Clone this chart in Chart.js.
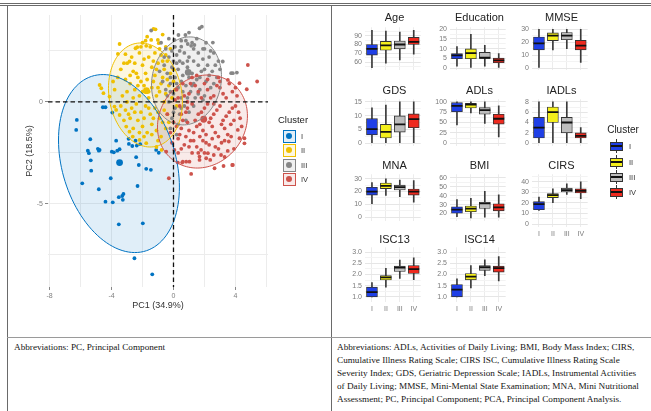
<!DOCTYPE html>
<html><head><meta charset="utf-8">
<script src="https://cdn.jsdelivr.net/npm/chart.js"></script>
<style>
html,body{margin:0;padding:0;background:#fff;}
body{width:651px;height:411px;position:relative;overflow:hidden;font-family:"Liberation Sans",Arial,sans-serif;}
.hl{position:absolute;background:#6a6a6a;height:1px;}
.vl{position:absolute;background:#6a6a6a;width:1px;}
.ttl{position:absolute;font-size:11px;color:#222;transform:translate(-50%,-50%);white-space:nowrap;}
.note{position:absolute;font-family:"Liberation Serif","DejaVu Serif",serif;font-size:9.2px;color:#151515;white-space:nowrap;line-height:13px;}
.lab{position:absolute;transform:translateY(-50%);color:#333;white-space:nowrap;}
</style></head><body>
<div class="hl" style="left:0;top:3px;width:651px;"></div>
<div class="hl" style="left:0;top:5px;width:651px;"></div>
<div class="vl" style="left:7px;top:5px;height:406px;"></div>
<div class="vl" style="left:331px;top:5px;height:406px;"></div>
<div class="hl" style="left:7px;top:337px;width:644px;background:#9a9a9a;"></div>
<div class="note" style="left:14px;top:341px;">Abbreviations: PC, Principal Component</div>
<div class="note" style="left:337px;top:341px;">Abbreviations: ADLs, Activities of Daily Living; BMI, Body Mass Index; CIRS,<br>Cumulative Illness Rating Scale; CIRS ISC, Cumulative Illness Rating Scale<br>Severity Index; GDS, Geriatric Depression Scale; IADLs, Instrumental Activities<br>of Daily Living; MMSE, Mini-Mental State Examination; MNA, Mini Nutritional<br>Assessment; PC, Principal Component; PCA, Principal Component Analysis.</div>
<div id="pcawrap" style="position:absolute;left:8px;top:6px;width:323px;height:332px;"><canvas id="pca" width="323" height="332"></canvas></div>
<script>
// ---------------- DATA ----------------
const clusters = ['I','II','III','IV'];
const pcaColors = ['#0073C2','#EFC000','#868686','#CD534C'];
const pcaFills = ['rgba(0,115,194,0.12)','rgba(239,192,0,0.12)','rgba(134,134,134,0.12)','rgba(205,83,76,0.12)'];
const pcaXTicks = [-8,-6,-4,-2,0,2,4,6];
const pcaXLabels = [-8,-4,0,4];
const pcaYTicks = [-7.5,-5,-2.5,0,2.5];
const pcaYLabels = [-5,0];

const clusterI = [[-4.56,-0.26],[-4.39,-0.26],[-3.95,-0.52],[-6.24,-0.88],[-6.28,-1.37],[-5.37,-1.83],[-3.70,-1.90],[-2.90,-1.81],[-2.88,-2.06],[-2.66,-2.16],[-2.37,-2.14],[-2.15,-2.07],[-2.45,-1.90],[-5.53,-2.39],[-5.46,-2.51],[-4.88,-2.30],[-4.82,-2.39],[-3.98,-2.44],[-3.85,-2.47],[-3.63,-2.39],[-3.48,-2.32],[-5.34,-2.86],[-2.41,-2.71],[-2.24,-3.09],[-1.76,-3.28],[-1.46,-3.33],[-5.31,-3.37],[-5.89,-3.99],[-4.05,-3.74],[-2.32,-4.12],[-4.82,-4.28],[-3.53,-4.67],[-3.31,-4.61],[-3.23,-4.51],[-3.27,-4.80],[-4.39,-4.89],[-3.92,-4.92],[-3.53,-6.00],[-1.98,-5.95],[-2.52,-7.66],[-1.37,-8.45],[-1.12,-2.35],[-0.95,-2.49],[-4.77,-2.35]];
const clusterII = [[-3.48,2.84],[-3.10,2.34],[-2.99,1.90],[-2.84,1.98],[-2.34,2.68],[-1.76,2.75],[-1.44,3.04],[-1.16,3.56],[-1.01,3.04],[-0.95,2.88],[-1.29,3.58],[-2.45,2.63],[-3.59,2.35],[-4.77,0.83],[-4.66,0.67],[-4.52,0.43],[-4.13,0.26],[-3.81,-0.23],[-3.70,-0.39],[-3.48,-0.64],[-3.05,-1.21],[-2.84,-1.46],[-2.63,-1.70],[-2.19,-1.86],[-1.76,-2.02],[-1.10,-2.21],[-0.77,-2.35],
 [-2.6,1.5],[-2.3,1.2],[-2.0,1.8],[-1.8,1.4],[-1.6,2.2],[-1.4,1.7],[-1.2,2.4],[-1.0,1.9],[-0.8,2.3],[-0.6,1.6],[-0.4,2.0],[-0.2,1.4],[0.0,1.0],[-2.8,0.9],[-2.5,0.6],[-2.2,0.3],[-1.9,0.8],[-1.6,0.5],[-1.3,1.0],[-1.0,0.7],[-0.7,1.2],[-0.5,0.4],[-0.3,0.8],[-0.1,0.2],[-3.3,0.3],[-3.0,0.0],[-2.7,-0.3],[-2.4,-0.1],[-2.1,-0.5],[-1.8,-0.2],[-1.5,-0.6],[-1.2,-0.3],[-0.9,-0.8],[-0.6,-0.4],[-0.3,-1.0],[-3.2,-0.9],[-2.9,-0.6],[-2.0,-1.2],[-1.7,-1.5],[-1.4,-1.1],[-1.1,-1.4],[-0.8,-1.7],[-0.5,-1.3],[-2.3,-0.9],[-3.6,1.2],[-3.4,1.6],[-3.1,1.1],[-2.0,2.9],[-1.7,3.2],[-0.7,3.3],[-0.5,2.7],
 [-2.7,2.2],[-2.5,1.9],[-2.2,2.4],[-1.9,2.1],[-1.5,2.7],[-1.3,2.0],[-1.1,1.6],[-0.9,2.6],[-0.7,2.0],[-0.5,2.3],[-2.4,1.4],[-2.1,1.0],[-1.7,1.1],[-1.2,1.3],[-0.8,0.9],[-0.4,1.1],[-2.6,0.2],[-2.3,0.8],[-2.0,0.5],[-1.6,0.2],[-1.4,0.7],[-1.1,0.3],[-0.9,0.5],[-0.6,0.0],[-3.4,-0.2],[-3.1,-0.4],[-2.8,-0.8],[-2.5,-0.5],[-1.9,-0.8],[-1.6,-0.3],[-1.3,-0.8],[-1.0,-0.5],[-0.7,-1.0],[-0.4,-0.6],[-2.6,-1.3],[-2.2,-1.5],[-1.9,-1.7],[-1.4,-1.6],[-1.0,-1.9],[-3.8,0.6],[-3.9,1.0],[-3.2,1.9],[-2.8,1.3],[-3.0,0.5],[0.1,0.6],[0.2,-0.2],[0.0,1.6],[-0.2,2.6],[-1.8,3.0],[-2.1,2.7]];
const clusterIII = [[1.68,3.61],[1.83,3.69],[0.32,3.28],[0.77,3.28],[2.54,2.91],[3.18,1.98],[3.72,1.41],[4.09,1.44],[1.35,2.79],[1.14,2.75],[0.92,2.84],[0.50,2.71],[0.06,3.04],[-1.44,3.50],[3.83,1.41],
 [-0.5,2.6],[-0.3,2.2],[-0.1,2.5],[0.2,2.3],[0.4,2.0],[0.7,2.4],[1.0,2.2],[1.3,2.0],[1.6,2.4],[1.9,2.1],[2.2,1.8],[2.5,1.5],[2.8,1.2],[-0.6,1.8],[-0.4,1.4],[-0.1,1.7],[0.1,1.2],[0.3,1.6],[0.6,1.3],[0.9,1.7],[1.2,1.4],[1.5,1.1],[1.8,1.5],[2.1,1.0],[2.4,0.7],[-0.7,1.0],[-0.5,0.6],[-0.2,0.9],[0.0,0.4],[0.3,0.7],[0.5,0.2],[0.8,0.8],[1.1,0.5],[1.4,0.2],[1.7,0.6],[2.0,0.3],[-0.3,0.0],[0.1,-0.3],[0.4,-0.6],[0.7,-0.2],[1.0,-0.5],[-0.1,-0.8],[0.3,-1.1],[2.6,2.4],[2.9,2.0],[3.0,1.6],[-0.8,2.9],[0.0,2.0],[0.5,3.0],[1.5,3.1],[2.0,2.6],[-0.9,1.5],[1.3,2.6],[2.3,2.2],[0.2,-1.6],[-0.2,-1.3],
 [0.1,2.7],[0.4,2.5],[0.9,2.0],[1.2,2.9],[1.6,1.8],[2.1,2.9],[2.4,2.5],[2.7,1.8],[0.6,1.9],[0.2,1.9],[-0.2,1.2],[0.5,1.0],[1.0,1.2],[1.3,0.9],[1.7,1.2],[2.0,1.6],[2.3,1.3],[0.2,0.9],[0.6,0.5],[0.9,0.2],[1.2,0.8],[1.6,0.4],[-0.4,0.3],[-0.2,0.5],[0.0,-0.5],[0.5,-0.3],[0.8,-0.9],[1.3,-0.2],[1.9,0.1],[2.6,0.9],[-0.6,2.2],[-0.3,3.1],[0.8,3.0],[1.0,3.4],[1.9,2.6]];
const clusterIV = [[4.80,1.81],[5.40,1.00],[4.73,0.62],[4.26,0.92],[3.51,1.08],[4.58,-1.78],[4.58,-2.03],[3.79,-3.09],[3.23,-3.14],[2.65,-3.25],[1.14,-3.53],[-0.47,-2.44],[0.06,-2.35],[0.60,-2.93],[1.03,-2.93],[-0.30,-3.74],[4.15,-1.37],[4.26,-1.78],[3.57,-1.94],[3.72,-1.70],[3.07,-2.60],[2.11,-2.76],[2.22,-2.51],[1.68,-2.68],[1.78,-2.35],[0.28,-2.97],[0.56,-2.97],[0.82,-2.93],[1.68,-2.84],[2.37,-2.84],[3.83,-3.09],
 [0.2,0.6],[0.6,0.9],[1.0,0.4],[1.4,0.8],[1.8,0.2],[2.2,0.6],[2.6,0.3],[3.0,0.7],[3.4,0.2],[3.8,0.5],[0.4,-0.2],[0.8,-0.5],[1.2,-0.1],[1.6,-0.6],[2.0,-0.3],[2.4,-0.8],[2.8,-0.4],[3.2,-0.9],[3.6,-0.5],[4.0,-0.2],[0.0,-1.0],[0.5,-1.3],[0.9,-1.0],[1.3,-1.5],[1.7,-1.1],[2.1,-1.6],[2.5,-1.2],[2.9,-1.7],[3.3,-1.3],[3.7,-1.1],[0.3,-1.8],[0.7,-2.1],[1.1,-1.9],[1.5,-2.2],[1.9,-1.9],[2.3,-2.1],[2.7,-2.2],[3.1,-2.0],[3.5,-2.4],[-0.2,-1.5],[-0.4,-0.6],[0.1,0.1],[4.3,-0.8],[4.1,0.3],[2.2,1.1],[2.9,1.2],[1.5,1.3],[3.3,-2.7],[2.0,-2.5],[1.2,-2.5],[0.3,-2.5],[4.4,-1.2],[3.9,-2.3],[0.9,0.0],[2.6,-0.1],
 [0.3,0.2],[0.7,0.3],[1.1,0.9],[1.6,0.5],[2.0,0.9],[2.4,0.2],[2.8,0.8],[3.2,0.4],[3.6,0.9],[0.5,-0.6],[0.9,-0.3],[1.4,-0.9],[1.8,-0.5],[2.2,-0.1],[2.6,-0.6],[3.0,-0.2],[3.4,-0.7],[3.8,-0.3],[0.2,-1.2],[0.6,-0.9],[1.0,-1.4],[1.5,-1.2],[1.9,-1.4],[2.3,-1.0],[2.7,-1.5],[3.1,-1.1],[3.5,-1.6],[3.9,-0.9],[0.4,-1.6],[0.8,-1.7],[1.3,-1.9],[1.7,-1.7],[2.1,-2.0],[2.5,-1.8],[2.9,-2.3],[3.3,-1.9],[-0.1,-2.0],[0.5,-2.3],[1.0,-2.2],[1.6,-2.5],[2.6,-2.6],[4.2,-0.5],[4.0,0.7],[3.0,1.0],[1.2,1.2]];
const clusterCenters = [[-3.48,-2.97],[-1.75,0.55],[0.95,1.45],[1.95,-0.85]];
const ellipseCenters = [[-3.52,-3.02],[-1.81,0.34],[0.84,1.03],[1.87,-0.96]];
const ellipseCov = [[15.23,-4.50,19.03],[5.70,-0.79,6.50],[5.10,0.47,4.65],[8.43,0.79,5.20]];

// box stats per cluster: [lower whisker, Q1, median, Q3, upper whisker]
const ageStats   = [[54,68,75,80,96],[59,73.5,79,83.5,95],[62.5,75,80,84,94],[69,80,83,88,96]];
const eduStats   = [[1,4.8,6.5,7.4,11],[0,4.8,7.7,9.9,17.4],[1,5,5.3,8.1,11.7],[0,2.7,3.9,5.1,7.4]];
const mmseStats  = [[0,14,19,24,30],[14,21.2,25,27.2,30],[15,21.9,25,27.5,30],[4.3,14,17.4,21.4,30]];
const gdsStats   = [[0,3,5.1,8.9,12.8],[0,1.9,4.1,6.8,13.8],[0,4,6.8,9.9,15],[0,5.6,8.7,10.6,15]];
const adlStats   = [[44,76,90,98,100],[73,85,93,96,100],[48,70,80,86,100],[15,46,59,70,90]];
const iadlStats  = [[0,1,3,5,8],[0,4,6,7,8],[0,2,4,5,8],[0,1,1.4,2,3]];
const mnaStats   = [[10.6,17.2,20,23.4,27],[17,22.3,24.5,26.7,30],[16,21.2,23.4,25,29],[11.7,17.2,20,22,28.5]];
const bmiStats   = [[16.4,20.3,24.3,27.6,35.7],[15,22,25.5,28.5,37],[16,25.7,31.5,33,45],[16,23,27,31,41]];
const cirsStats  = [[13,13.6,18.8,21.2,25.5],[20.3,25,27.3,28.8,33.4],[28,30.3,32,34,38],[24,29.4,31.5,33.4,40]];
const isc13Stats = [[1.0,1.0,1.21,1.43,1.64],[1.43,1.75,1.87,1.95,2.27],[1.82,2.13,2.3,2.37,2.64],[1.77,2.04,2.24,2.4,2.74]];
const isc14Stats = [[1.0,1.0,1.32,1.55,1.8],[1.4,1.76,1.9,2.04,2.4],[1.94,2.18,2.32,2.4,2.65],[1.71,2.1,2.28,2.37,2.8]];

const ageTicks = [60,70,80,90];
const eduTicks = [0,5,10,15,20];
const mmseTicks = [0,10,20,30];
const gdsTicks = [0,5,10,15];
const adlTicks = [0,25,50,75,100];
const iadlTicks = [0,2,4,6,8];
const mnaTicks = [0,10,20,30];
const bmiTicks = [20,30,40,50,60];
const cirsTicks = [0,10,20,30,40];
const iscTicks = [1.0,1.5,2.0,2.5,3.0];

const boxFill = ['#1f3fe6','#f4ef1c','#bdbdbd','#ee2a1f'];

// ---------------- LAYOUT ----------------
Chart.defaults.font.family = "'Liberation Sans', Arial, sans-serif";
const colX = [364.5, 449.5, 531.5];
const rowY = [[25,76],[97,152],[172,227],[245,302]];
const titleY = [17,90,165,239];

const panels = [
 {title:'Age', stats:ageStats, ticks:ageTicks, min:51.6, max:99.4, col:0,row:0},
 {title:'Education', stats:eduStats, ticks:eduTicks, min:-0.86, max:21, col:1,row:0},
 {title:'MMSE', stats:mmseStats, ticks:mmseTicks, min:-1.3, max:31.5, col:2,row:0},
 {title:'GDS', stats:gdsStats, ticks:gdsTicks, min:-0.9, max:15.9, col:0,row:1},
 {title:'ADLs', stats:adlStats, ticks:adlTicks, min:-6, max:106, col:1,row:1},
 {title:'IADLs', stats:iadlStats, ticks:iadlTicks, min:-0.5, max:8.5, col:2,row:1},
 {title:'MNA', stats:mnaStats, ticks:mnaTicks, min:-2.8, max:33.5, col:0,row:2},
 {title:'BMI', stats:bmiStats, ticks:bmiTicks, min:12, max:64, col:1,row:2},
 {title:'CIRS', stats:cirsStats, ticks:cirsTicks, min:-2.7, max:47, col:2,row:2, showX:true},
 {title:'ISC13', stats:isc13Stats, ticks:iscTicks, min:0.77, max:3.21, col:0,row:3, showX:true, dec:1},
 {title:'ISC14', stats:isc14Stats, ticks:iscTicks, min:0.77, max:3.21, col:1,row:3, showX:true, dec:1}
];

function addDiv(html, css, cls){ const d=document.createElement('div'); if(cls) d.className=cls; d.style.cssText=css; d.innerHTML=html; document.body.appendChild(d); return d; }

panels.forEach(p=>{
  const plotL = colX[p.col], plotT = rowY[p.row][0], plotH = rowY[p.row][1]-rowY[p.row][0];
  const yW = 22, padT = 5, padR = 3, xH = p.showX ? 12 : 1;
  const w = yW + 60 + padR, h = padT + plotH + xH;
  const wrap = addDiv('', `position:absolute;left:${plotL-yW}px;top:${plotT-padT}px;width:${w}px;height:${h}px;`);
  const cv = document.createElement('canvas'); cv.width=w; cv.height=h; wrap.appendChild(cv);
  addDiv(p.title, `left:${plotL+30}px;top:${titleY[p.row]}px;`, 'ttl');
  const step = p.ticks[1]-p.ticks[0];
  const all = [];
  for(let i=0;i<p.ticks.length;i++){ all.push(p.ticks[i]); all.push(p.ticks[i]+step/2); }
  all.unshift(p.ticks[0]-step/2);
  const vis = all.filter(v=>v>=p.min && v<=p.max);
  const isMajor = v => p.ticks.some(t=>Math.abs(t-v)<1e-9);
  new Chart(cv,{
    type:'bar',
    data:{labels:clusters, datasets:[
      {type:'bar', data:p.stats.map(s=>[s[0],s[4]]), backgroundColor:'#3a3a3a', barThickness:1, grouped:false, order:3},
      {type:'bar', data:p.stats.map(s=>[s[1],s[3]]), backgroundColor:boxFill, borderColor:'#333', borderWidth:0.9, borderSkipped:false, barThickness:11, grouped:false, order:2},
      {type:'line', data:p.stats.map(s=>s[2]), showLine:false, pointStyle:'line', pointRadius:5.5, pointBorderWidth:1.8, pointBorderColor:'#111', borderColor:'#111', order:1}
    ]},
    options:{
      responsive:false, animation:false, events:[],
      layout:{padding:{top:padT,right:padR,bottom:0,left:0}},
      plugins:{legend:{display:false},tooltip:{enabled:false}},
      scales:{
        x:{type:'category', offset:true, border:{display:false},
           grid:{offset:false, color:'#ececec', drawTicks:false},
           ticks:{display:!!p.showX, font:{size:7}, color:'#7a7a7a', padding:3, maxRotation:0, autoSkip:false},
           afterFit:s=>{s.height=xH;}},
        y:{min:p.min, max:p.max, border:{display:false},
           afterBuildTicks:s=>{s.ticks = vis.map(v=>({value:v}));},
           grid:{drawTicks:false, color:c=> isMajor(c.tick.value)?'#e6e6e6':'#f3f3f3'},
           ticks:{autoSkip:false, font:{size:7}, color:'#7a7a7a', padding:3,
                  callback:v=> isMajor(v) ? (p.dec? Number(v).toFixed(p.dec) : String(Math.round(v))) : ''},
           afterFit:s=>{s.width=yW;}}
      }
    }
  });
});

// boxplot legend
addDiv('Cluster','left:623px;top:129px;font-size:10px;color:#222;','ttl');
[146,162,177,192].forEach((y,i)=>{
  addDiv('',`position:absolute;left:616px;top:${y-7}px;width:1px;height:14px;background:#333;`);
  addDiv('',`position:absolute;left:610px;top:${y-4}px;width:11px;height:7px;border:1px solid #333;background:${boxFill[i]};`);
  addDiv('',`position:absolute;left:611px;top:${y-1}px;width:11px;height:2px;background:#111;`);
  addDiv(clusters[i],`left:629px;top:${y}px;font-size:7.5px;`,'lab');
});

// PCA legend
addDiv('Cluster','left:293px;top:119px;font-size:9.5px;color:#222;','ttl');
[136,150,165,179].forEach((y,i)=>{
  addDiv('',`position:absolute;left:283px;top:${y-6}px;width:11px;height:11px;border:1px solid ${pcaColors[i]};background:${pcaFills[i]};`);
  addDiv('',`position:absolute;left:286px;top:${y-3}px;width:6px;height:6px;border-radius:50%;background:${pcaColors[i]};`);
  addDiv(clusters[i],`left:301px;top:${y}px;font-size:7.5px;`,'lab');
});

// ---------------- PCA scatter ----------------
function ellPath(chart, k){
  const xs=chart.scales.x, ys=chart.scales.y, c=ellipseCenters[k], s=ellipseCov[k];
  const L11=Math.sqrt(s[0]), L21=s[1]/L11, L22=Math.sqrt(s[2]-L21*L21);
  const ctx=chart.ctx; ctx.beginPath();
  for(let j=0;j<=120;j++){
    const t=j/120*2*Math.PI;
    const px=xs.getPixelForValue(c[0]+L11*Math.cos(t));
    const py=ys.getPixelForValue(c[1]+L21*Math.cos(t)+L22*Math.sin(t));
    if(j) ctx.lineTo(px,py); else ctx.moveTo(px,py);
  }
  ctx.closePath();
}
const pcaPlugin = {
  id:'pcaDeco',
  beforeDatasetsDraw(chart){
    const ctx=chart.ctx; ctx.save();
    for(let k=0;k<4;k++){ ellPath(chart,k); ctx.fillStyle=pcaFills[k]; ctx.fill(); }
    ctx.restore();
  },
  afterDatasetsDraw(chart){
    const ctx=chart.ctx, a=chart.chartArea, xs=chart.scales.x, ys=chart.scales.y;
    ctx.save();
    for(let k=0;k<4;k++){ ellPath(chart,k); ctx.strokeStyle=pcaColors[k]; ctx.lineWidth=1; ctx.stroke(); }
    ctx.setLineDash([4.5,3]); ctx.strokeStyle='#111'; ctx.lineWidth=1.3;
    const x0=xs.getPixelForValue(0), y0=ys.getPixelForValue(0);
    ctx.beginPath(); ctx.moveTo(x0,a.top); ctx.lineTo(x0,a.bottom); ctx.stroke();
    ctx.beginPath(); ctx.moveTo(a.left,y0); ctx.lineTo(a.right,y0); ctx.stroke();
    ctx.restore();
  }
};
const clusterPts = [clusterI, clusterII, clusterIII, clusterIV];
new Chart(document.getElementById('pca'),{
  type:'scatter',
  data:{datasets:[
    ...clusterPts.map((pts,i)=>({label:clusters[i], data:pts.map(p=>({x:p[0],y:p[1]})), backgroundColor:pcaColors[i], borderWidth:0, pointRadius:1.9, order:4-i})),
    {label:'centers', data:clusterCenters.map(p=>({x:p[0],y:p[1]})), backgroundColor:pcaColors, borderWidth:0, pointRadius:3.4, order:0}
  ]},
  options:{
    responsive:false, animation:false, events:[],
    layout:{padding:{top:9,right:63,bottom:21,left:0}},
    plugins:{legend:{display:false},tooltip:{enabled:false}},
    scales:{
      x:{type:'linear', min:-8.1, max:6.1, border:{display:false},
         afterBuildTicks:s=>{s.ticks=pcaXTicks.map(v=>({value:v}));},
         grid:{color:'#ececec', tickLength:3, tickColor:c=> pcaXLabels.includes(c.tick.value)?'#888':'rgba(0,0,0,0)'},
         ticks:{autoSkip:false, maxRotation:0, font:{size:7}, color:'#7f7f7f', padding:2, callback:v=> pcaXLabels.includes(v)?String(v):''},
         title:{display:true, text:'PC1 (34.9%)', font:{size:9}, color:'#333', padding:{top:0,bottom:5.6}},
         afterFit:s=>{s.height=30;}},
      y:{type:'linear', min:-9.07, max:4.26, border:{display:false},
         afterBuildTicks:s=>{s.ticks=pcaYTicks.map(v=>({value:v}));},
         grid:{color:'#ececec', tickLength:3, tickColor:c=> pcaYLabels.includes(c.tick.value)?'#888':'rgba(0,0,0,0)'},
         ticks:{autoSkip:false, font:{size:7}, color:'#7f7f7f', padding:2, callback:v=> pcaYLabels.includes(v)?String(v):''},
         title:{display:true, text:'PC2 (18.5%)', font:{size:9}, color:'#333', padding:{top:16,bottom:0}},
         afterFit:s=>{s.width=40;}}
    }
  },
  plugins:[pcaPlugin]
});
</script>
</body></html>
